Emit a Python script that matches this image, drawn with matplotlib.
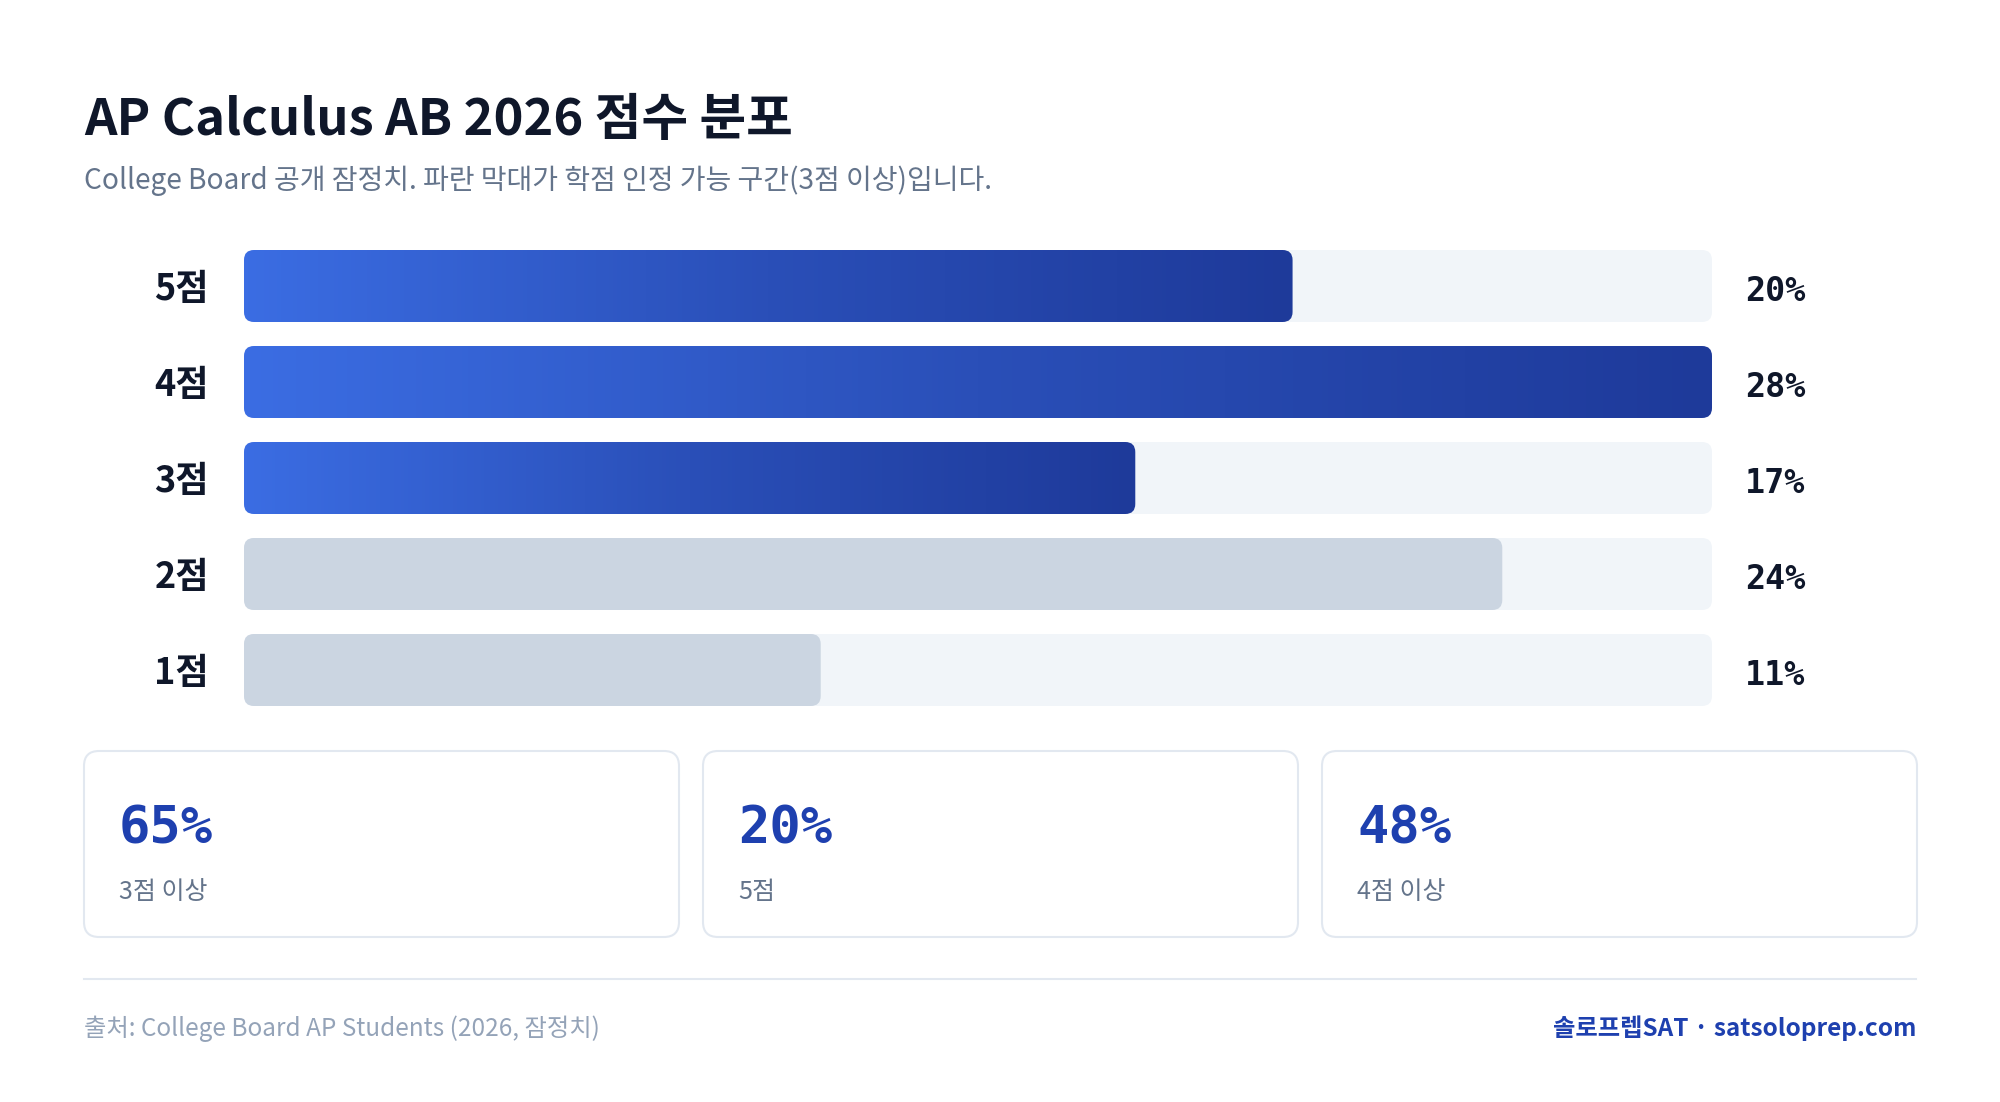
import matplotlib
matplotlib.use('Agg')
import matplotlib.pyplot as plt
import numpy as np
from matplotlib.patches import FancyBboxPatch
from matplotlib.colors import LinearSegmentedColormap
from matplotlib.transforms import offset_copy

# 데이터
score_labels = ['5점', '4점', '3점', '2점', '1점']
score_pcts = [20, 28, 17, 24, 11]
score_values = [5, 4, 3, 2, 1]

title = 'AP Calculus AB 2026 점수 분포'
subtitle = 'College Board 공개 잠정치. 파란 막대가 학점 인정 가능 구간(3점 이상)입니다.'
source = '출처: College Board AP Students (2026, 잠정치)'
brand = '솔로프렙SAT · satsoloprep.com'

card_labels = ['3점 이상', '5점', '4점 이상']
card_min_scores = [3, 5, 4]

KR = 'Noto Sans CJK KR'
MONO = 'DejaVu Sans Mono'
DARK = '#0f172a'
SLATE = '#64748b'
NAVY = '#1e40af'
TRACK = '#f1f5f9'
GRAY = '#cbd5e1'
BORDER = '#e2e8f0'

W, H = 2000, 1102
fig = plt.figure(figsize=(W / 100, H / 100), dpi=100, facecolor='white')

# 배경 레이어 (픽셀 좌표)
bg = fig.add_axes([0, 0, 1, 1])
bg.set_xlim(0, W)
bg.set_ylim(H, 0)
bg.axis('off')

bg.text(84, 135, title, fontsize=36.5, fontweight='bold', color=DARK,
        family=KR, ha='left', va='baseline')
bg.text(84, 189, subtitle, fontsize=20.2, color=SLATE,
        family=KR, ha='left', va='baseline')

# 막대 영역
bar_left, bar_right = 244, 1712
bar_top, pitch = 238, 96
n = len(score_labels)
ax = fig.add_axes([bar_left / W, 1 - (bar_top + n * pitch) / H,
                   (bar_right - bar_left) / W, n * pitch / H])
xmax = max(score_pcts)
bar_h = 72 / pitch
rx = 10 * xmax / (bar_right - bar_left)
ry = 10 / pitch
asp = ry / rx

cmap = LinearSegmentedColormap.from_list('blue', ['#3b6de3', '#2a4fb8', '#1e3a9a'])
grad = np.linspace(0, 1, 256)[None, :]

for i, (lab, v, s) in enumerate(zip(score_labels, score_pcts, score_values)):
    track = FancyBboxPatch((0, i - bar_h / 2), xmax, bar_h,
                           boxstyle=f'round,pad=0,rounding_size={rx}',
                           mutation_aspect=asp, fc=TRACK, ec='none', zorder=1)
    ax.add_patch(track)
    if s >= 3:
        clip = FancyBboxPatch((0, i - bar_h / 2), v, bar_h,
                              boxstyle=f'round,pad=0,rounding_size={rx}',
                              mutation_aspect=asp, fc='none', ec='none', zorder=2)
        ax.add_patch(clip)
        im = ax.imshow(grad, cmap=cmap, aspect='auto', zorder=2,
                       extent=(0, v, i + bar_h / 2, i - bar_h / 2))
        im.set_clip_path(clip)
    else:
        ax.add_patch(FancyBboxPatch((0, i - bar_h / 2), v, bar_h,
                                    boxstyle=f'round,pad=0,rounding_size={rx}',
                                    mutation_aspect=asp, fc=GRAY, ec='none', zorder=2))

    ytr = ax.get_yaxis_transform()
    ax.text(0, i, lab, transform=offset_copy(ytr, fig=fig, x=-35, y=-14, units='dots'),
            fontsize=26, fontweight='bold', color=DARK, family=KR,
            ha='right', va='baseline')
    ax.text(1, i, f'{v}%', transform=offset_copy(ytr, fig=fig, x=33, y=-15, units='dots'),
            fontsize=24, fontweight='bold', color=DARK, family=MONO,
            ha='left', va='baseline')

ax.set_xlim(0, xmax)
ax.set_ylim(n - 0.5, -0.5)
ax.axis('off')

# 요약 카드
card_x0, card_w, card_gap = 84, 595, 24
card_top, card_h = 751, 186
for k, (lab, m) in enumerate(zip(card_labels, card_min_scores)):
    total = sum(p for p, s in zip(score_pcts, score_values) if s >= m)
    x = card_x0 + k * (card_w + card_gap)
    bg.add_patch(FancyBboxPatch((x, card_top), card_w, card_h,
                                boxstyle='round,pad=0,rounding_size=15',
                                fc='white', ec=BORDER, lw=1.5))
    bg.text(x + 35, 843, f'{total}%', fontsize=37.5, fontweight='bold',
            color=NAVY, family=MONO, ha='left', va='baseline')
    bg.text(x + 35, 899, lab, fontsize=18, color=SLATE, family=KR,
            ha='left', va='baseline')

# 하단
bg.plot([84, 1916], [979, 979], color=BORDER, lw=1.5)
bg.text(84, 1036, source, fontsize=17.5, color='#94a3b8', family=KR,
        ha='left', va='baseline')
bg.text(1916, 1036, brand, fontsize=17.5, fontweight='bold', color=NAVY,
        family=KR, ha='right', va='baseline')

fig.savefig('out.png', dpi=100, facecolor='white')
